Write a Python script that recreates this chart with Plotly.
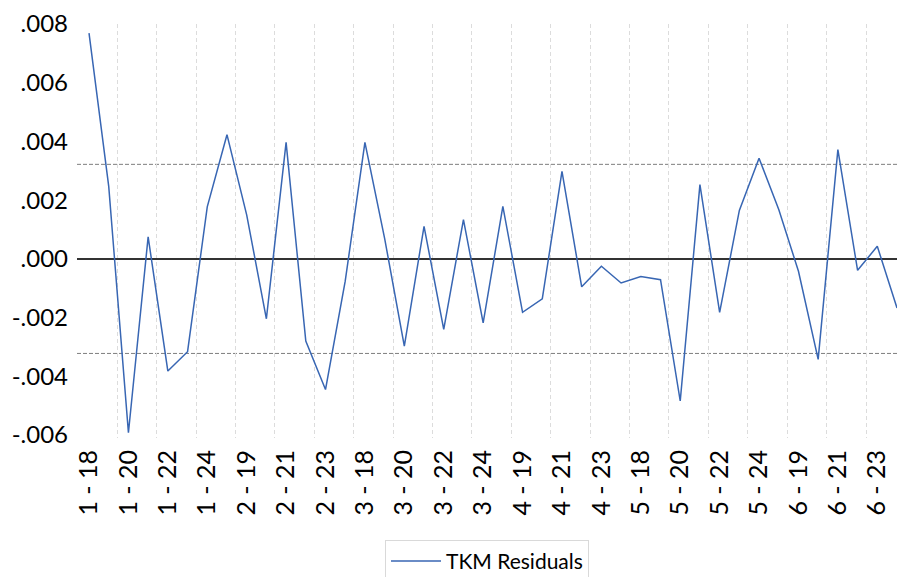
import plotly.graph_objects as go

categories = [f"{g} - {d}" for g in range(1, 7) for d in range(18, 25)]
residuals = [
    0.00769, 0.00247, -0.00592, 0.00075, -0.00382, -0.00316, 0.00177,
    0.00423, 0.00150, -0.00204, 0.00397, -0.00280, -0.00445, -0.00076,
    0.00397, 0.00070, -0.00297, 0.00111, -0.00240, 0.00134, -0.00218,
    0.00179, -0.00182, -0.00136, 0.00298, -0.00095, -0.00025, -0.00082,
    -0.00060, -0.00071, -0.00484, 0.00253, -0.00182, 0.00165, 0.00343,
    0.00168, -0.00042, -0.00342, 0.00372, -0.00039, 0.00043, -0.00167,
]
se_band = 0.00322
y_tickvals = [0.008, 0.006, 0.004, 0.002, 0.0, -0.002, -0.004, -0.006]
y_ticktext = [".008", ".006", ".004", ".002", ".000", "-.002", "-.004", "-.006"]

idx = list(range(len(categories)))
grid_positions = [i + 0.43 for i in idx[1::2]]

fig = go.Figure()
fig.add_trace(go.Scatter(
    x=idx, y=residuals, mode="lines", name="TKM Residuals",
    line=dict(color="#3866b3", width=1.5),
))
for v in (se_band, -se_band):
    fig.add_hline(y=v, line=dict(color="#7f7f7f", width=1, dash="4px,2px"), layer="below")

font = "Lato, 'Open Sans', sans-serif"
fig.update_layout(
    width=897, height=577,
    margin=dict(l=77, r=0, t=24, b=139, autoexpand=False),
    paper_bgcolor="white", plot_bgcolor="white",
    font=dict(family=font, size=24, color="#000000"),
    showlegend=True,
    legend=dict(
        orientation="h", x=0.5, xanchor="center", y=-0.246, yanchor="top",
        bordercolor="#d9d9d9", borderwidth=1, font=dict(size=21),
        itemwidth=50,
    ),
    xaxis=dict(
        range=[-0.61, 41.0], automargin=False,
        tickmode="array", tickvals=idx[::2], ticktext=categories[::2],
        tickangle=-90, ticks="", showgrid=False, zeroline=False,
        ticklabelstandoff=6, showline=False, tickfont=dict(size=25),
        minor=dict(tickmode="array", tickvals=grid_positions, showgrid=True,
                   gridcolor="#dcdcdc", griddash="4px,3px", gridwidth=1, ticks=""),
    ),
    yaxis=dict(
        range=[-0.0061, 0.008], automargin=False,
        tickmode="array", tickvals=y_tickvals, ticktext=y_ticktext,
        showgrid=False, zeroline=True, zerolinecolor="#333333", zerolinewidth=1.5,
        ticks="", showline=False, ticklabelstandoff=8,
    ),
)
fig.write_html(
    "out.html",
    config={"displayModeBar": False},
    post_script="document.body.style.margin='0';document.body.style.overflow='hidden';",
)
